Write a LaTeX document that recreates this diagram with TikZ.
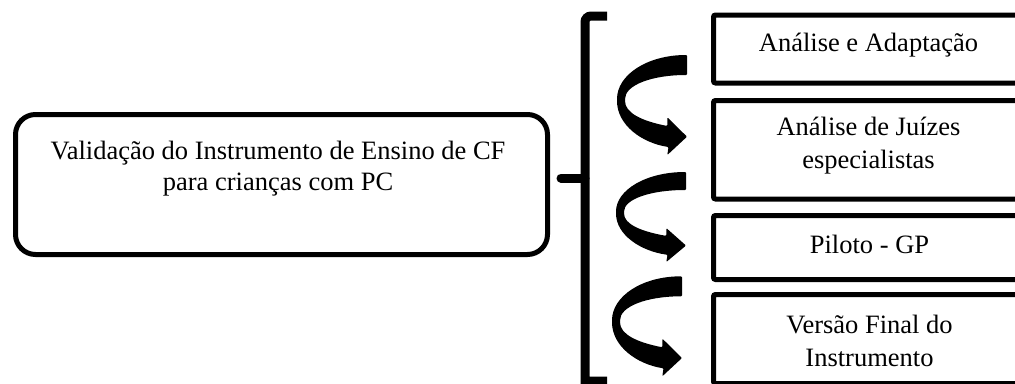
\documentclass[tikz,border=0pt]{standalone}
\usepackage{fontspec}
\setmainfont{Liberation Serif}
\begin{document}
\begin{tikzpicture}[x=1pt, y=-1pt,
  txt/.style={inner sep=0pt, anchor=base, font=\fontsize{26.5}{31}\selectfont},
  mainbox/.style={draw, line width=5pt, rounded corners=20pt, anchor=north west, inner sep=0pt},
  stage/.style={draw, line width=5pt, rounded corners=2pt, anchor=north west, inner sep=0pt, minimum width=314pt},
  brace/.style={line width=9pt},
  bentarrow/.pic={
    \fill[rounded corners=1pt]
      (0,0) .. controls (-40,0) and (-70,20) .. (-70,45)
            .. controls (-70,70) and (-45,88) .. (-18.5,92)
      -- (-19.7,100) -- (0,81.7) -- (-19.7,62.3) -- (-19.7,71)
            .. controls (-45,66) and (-62,58) .. (-62,45)
            .. controls (-62,30) and (-35,20) .. (0,20) -- cycle;
  }]
\useasboundingbox (0,0) rectangle (1015,383);
\clip (0,0) rectangle (1015,383);

% main box on the left
\node[mainbox, minimum width=532pt, minimum height=140pt] (main) at (13,112) {};
\node[txt] (m1) at (278,159) {Validação do Instrumento de Ensino de CF};
\node[txt] (m2) at (278,190) {para crianças com PC};

% square bracket gathering the stages
\coordinate (bt) at (607,16);
\coordinate (bb) at (607,381);
\coordinate (bm) at (561,178);
\coordinate (bv) at (585,178);
\draw[brace] (bt) [rounded corners=6pt] -- (585,16) -- (585,200) [sharp corners] -- (585,381) -- (bb);
\draw[line width=9pt, line cap=round] (bm) -- (bv);

% stages
\node[stage, minimum height=68pt] (s1) at (711,12.5) {};
\node[txt] (s1a) at (868.5,51) {Análise e Adaptação};

\node[stage, minimum height=98.5pt] (s2) at (711,98) {};
\node[txt] (s2a) at (868.5,135) {Análise de Juízes};
\node[txt] (s2b) at (868.5,168.5) {especialistas};

\node[stage, minimum height=64pt] (s3) at (711,213) {};
\node[txt] (s3a) at (869.5,253) {Piloto - GP};

\node[stage, minimum height=89pt] (s4) at (711,292) {};
\node[txt] (s4a) at (869.5,333) {Versão Final do};
\node[txt] (s4b) at (869.5,366.5) {Instrumento};

% bent arrows between the stages
\pic (a1) at (687,55) {bentarrow};
\pic[yscale=0.9] (a2) at (686,172) {bentarrow};
\pic (a3) at (682,276.3) {bentarrow};
\end{tikzpicture}
\end{document}
